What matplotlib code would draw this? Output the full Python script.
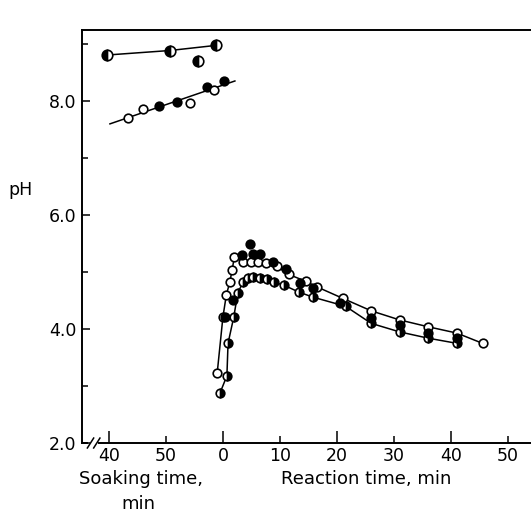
import numpy as np
import matplotlib.pyplot as plt

# soaking period (min), plotted at x = soak - 60 so it runs into reaction time 0
soak_half = [39.6, 50.7, 55.6, 58.8]
ph_half = [8.81, 8.89, 8.70, 8.98]
soak_mix = [43.3, 46.0, 48.8, 51.9, 54.2, 57.2, 58.4, 60.2]
ph_mix = [7.70, 7.86, 7.91, 7.98, 7.96, 8.25, 8.19, 8.35]
mix_filled = [False, False, True, True, False, True, False, True]

# reaction period (min)
t_open = [-1.0, 0.0, 0.6, 1.2, 1.6, 2.0, 3.5, 5.0, 6.2, 7.5, 9.5, 11.5, 14.5, 16.5, 21.0, 26.0, 31.0, 36.0, 41.0, 45.5]
ph_open = [3.23, 4.21, 4.60, 4.82, 5.03, 5.26, 5.18, 5.18, 5.18, 5.16, 5.10, 4.96, 4.84, 4.74, 4.54, 4.32, 4.16, 4.04, 3.93, 3.75]
t_fill = [0.4, 1.8, 3.3, 4.7, 5.3, 6.5, 8.8, 11.1, 13.5, 15.8, 20.5, 26.0, 31.0, 36.0, 41.0]
ph_fill = [4.21, 4.51, 5.30, 5.49, 5.32, 5.32, 5.18, 5.05, 4.81, 4.72, 4.46, 4.19, 4.07, 3.93, 3.84]
t_low = [-0.5, 0.7, 0.9, 1.9, 2.6, 3.5, 4.4, 5.3, 6.5, 7.7, 9.0, 10.7, 13.3, 15.8, 21.5, 26.0, 31.0, 36.0, 41.0]
ph_low = [2.88, 3.18, 3.75, 4.21, 4.63, 4.82, 4.89, 4.91, 4.89, 4.88, 4.82, 4.77, 4.65, 4.56, 4.40, 4.10, 3.95, 3.84, 3.75]

xtick_pos = [-20, -10, 0, 10, 20, 30, 40, 50]
xtick_lab = ["40", "50", "0", "10", "20", "30", "40", "50"]

plt.rcParams["font.family"] = "DejaVu Sans"
fig = plt.figure(figsize=(5.31, 5.19), dpi=100)
ax = fig.add_axes([0.1544, 0.1464, 0.8456, 0.7958])

k = "black"
ms = 6.2
mew = 1.2

sx_half = np.array(soak_half) - 60
sx_mix = np.array(soak_mix) - 60

# soaking time series
ax.plot(sx_half[[0, 1, 3]], np.array(ph_half)[[0, 1, 3]], color=k, lw=1.1)
ax.plot(sx_half, ph_half, "o", ms=7.6, mec=k, mfc=k, mfcalt="white",
        fillstyle="left", mew=mew, ls="none")
coef = np.polyfit(sx_mix, ph_mix, 1)
xl = np.array([-19.8, 2.1])
ax.plot(xl, np.polyval(coef, xl), color=k, lw=1.1)
for x, y, f in zip(sx_mix, ph_mix, mix_filled):
    ax.plot(x, y, "o", ms=ms, mec=k, mfc=k if f else "white", mew=mew)

# reaction time series
ax.plot(t_open, ph_open, "-o", color=k, lw=1.1, ms=ms, mfc="white", mec=k, mew=mew)
ax.plot(t_low, ph_low, "-o", color=k, lw=1.1, ms=ms, mec=k, mfc=k, mfcalt="white",
        fillstyle="right", mew=mew)
ax.plot(t_fill, ph_fill, "o", ms=ms, mfc=k, mec=k, mew=mew, ls="none")

ax.set_xlim(-24.7, 54.0)
ax.set_ylim(2.0, 9.25)

ax.spines["right"].set_visible(False)
for s in ["left", "top", "bottom"]:
    ax.spines[s].set_linewidth(1.4)
ax.spines["bottom"].set_bounds(-21.8, 54.0)

ax.set_xticks(xtick_pos)
ax.set_xticklabels(xtick_lab)
ax.set_yticks([2, 4, 6, 8])
ax.set_yticklabels(["2.0", "4.0", "6.0", "8.0"])
ax.set_yticks([3, 5, 7, 9], minor=True)
ax.tick_params(axis="y", which="major", direction="in", length=6, width=1.1, labelsize=12.5, pad=4)
ax.tick_params(axis="y", which="minor", direction="in", length=4.5, width=1.1)
ax.tick_params(axis="x", direction="in", length=6, width=1.1, labelsize=12.5, pad=3)
for i, t in enumerate(ax.xaxis.get_major_ticks()):
    t.tick1line.set_markersize(8.5 if i % 2 == 0 else 5)

# axis break on the bottom axis
tr = ax.transAxes
ax.plot([0, 0.012], [0, 0], color=k, lw=1.4, transform=tr, clip_on=False)
ax.plot([0.012, 0.026], [-0.012, 0.012], color=k, lw=1.1, transform=tr, clip_on=False)
ax.plot([0.026, 0.040], [-0.012, 0.012], color=k, lw=1.1, transform=tr, clip_on=False)

ax.text(-0.165, 0.613, "pH", transform=tr, fontsize=12.5, va="center", ha="left")
fig.text(141 / 531, 1 - 479 / 519, "Soaking time,", fontsize=13, ha="center", va="center")
fig.text(138 / 531, 1 - 504 / 519, "min", fontsize=13, ha="center", va="center")
fig.text(366 / 531, 1 - 479 / 519, "Reaction time, min", fontsize=13, ha="center", va="center")

fig.savefig("out.png", dpi=100)
